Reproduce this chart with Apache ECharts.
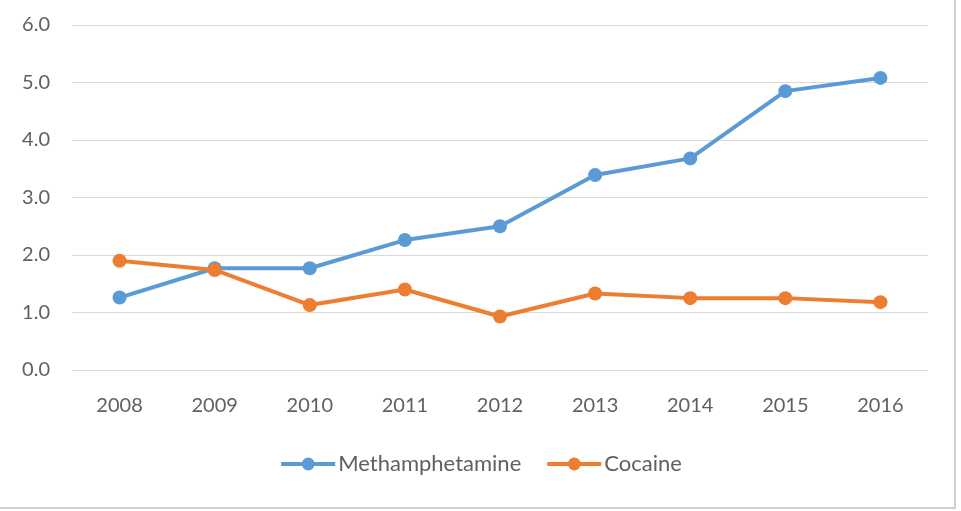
<!DOCTYPE html>
<html>
<head>
<meta charset="utf-8">
<script src="https://cdn.jsdelivr.net/npm/echarts@6/dist/echarts.min.js"></script>
<style>
    html, body { margin: 0; padding: 0; background: #fff; }
    #chart { width: 961px; height: 511px; }
</style>
</head>
<body>
<div id="chart"></div>
<script>
    // years on the x axis
    const years = ['2008', '2009', '2010', '2011', '2012', '2013', '2014', '2015', '2016'];
    // values
    const methamphetamine = [1.26, 1.77, 1.77, 2.26, 2.5, 3.39, 3.68, 4.85, 5.08];
    const cocaine = [1.9, 1.74, 1.13, 1.4, 0.93, 1.33, 1.25, 1.25, 1.18];

    let chart = echarts.init(document.getElementById('chart'));

    const textColor = '#606060';
    const font = 'Lato, "Open Sans", sans-serif';

    function lineSeries(name, data, color) {
        return {
            name: name,
            type: 'line',
            data: data,
            symbol: 'circle',
            symbolSize: 14,
            lineStyle: { color: color, width: 4 },
            itemStyle: { color: color },
            animation: false
        };
    }

    let option = {
        backgroundColor: '#fff',
        grid: { left: 72, right: 33, top: 25, bottom: 141 },
        legend: {
            bottom: 31,
            left: 'center',
            itemWidth: 54,
            itemHeight: 16,
            itemGap: 24,
            lineStyle: { width: 4 },
            textStyle: { color: textColor, fontSize: 22, fontFamily: font, padding: [0, 0, 0, -2] },
            data: ['Methamphetamine', 'Cocaine']
        },
        xAxis: {
            type: 'category',
            data: years,
            axisLine: { show: false },
            axisTick: { show: false },
            axisLabel: { color: textColor, fontSize: 20, fontFamily: font, margin: 26 }
        },
        yAxis: {
            type: 'value',
            min: 0,
            max: 6,
            interval: 1,
            axisLine: { show: false },
            axisTick: { show: false },
            splitLine: { lineStyle: { color: '#d9d9d9', width: 1 } },
            axisLabel: {
                color: textColor, fontSize: 20, fontFamily: font, margin: 22,
                formatter: function (v) { return v.toFixed(1); }
            }
        },
        graphic: [
            { type: 'line', shape: { x1: 955, y1: 0, x2: 955, y2: 508 }, style: { stroke: '#d0d0d0', lineWidth: 2 } },
            { type: 'line', shape: { x1: 0, y1: 508, x2: 956, y2: 508 }, style: { stroke: '#d0d0d0', lineWidth: 2 } }
        ],
        series: [
            lineSeries('Methamphetamine', methamphetamine, '#5B9BD5'),
            lineSeries('Cocaine', cocaine, '#ED7D31')
        ]
    };

    chart.setOption(option);
</script>
</body>
</html>
